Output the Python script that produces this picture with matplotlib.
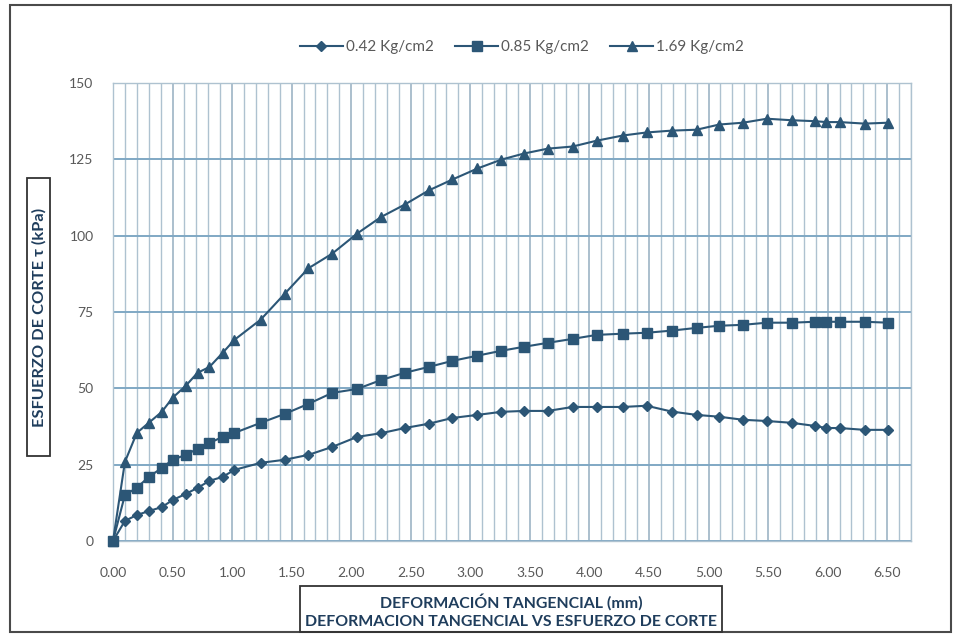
import matplotlib
matplotlib.use("Agg")
import matplotlib.pyplot as plt
from matplotlib.patches import Rectangle
from matplotlib.ticker import MultipleLocator, FormatStrFormatter

plt.rcParams['font.family'] = ['Lato', 'DejaVu Sans']

# Horizontal displacement (mm), shared by the three normal-stress tests
deformacion = [0.00, 0.10, 0.20, 0.30, 0.41, 0.50, 0.61, 0.71, 0.81, 0.92,
               1.02, 1.24, 1.44, 1.64, 1.84, 2.05, 2.25, 2.45, 2.65, 2.85,
               3.06, 3.26, 3.45, 3.65, 3.86, 4.06, 4.28, 4.48, 4.69, 4.90,
               5.09, 5.29, 5.49, 5.70, 5.89, 5.99, 6.10, 6.31, 6.51]

# Shear stress (kPa) for each normal load
tau_042 = [0.0, 6.6, 8.5, 9.8, 11.1, 13.4, 15.4, 17.4, 19.7, 21.0,
           23.3, 25.6, 26.6, 28.2, 30.8, 34.1, 35.3, 37.0, 38.4, 40.3,
           41.3, 42.3, 42.6, 42.6, 43.9, 43.9, 43.9, 44.3, 42.4, 41.3,
           40.7, 39.7, 39.3, 38.7, 37.7, 37.0, 37.0, 36.4, 36.4]
tau_085 = [0.0, 15.1, 17.4, 21.0, 23.9, 26.6, 28.2, 30.2, 32.1, 34.1,
           35.4, 38.7, 41.6, 44.9, 48.5, 49.8, 52.7, 55.1, 57.0, 59.0,
           60.7, 62.3, 63.6, 64.9, 66.2, 67.5, 67.9, 68.2, 68.9, 69.8,
           70.5, 70.8, 71.5, 71.5, 71.8, 71.8, 71.8, 71.8, 71.5]
tau_169 = [0.0, 25.9, 35.4, 38.7, 42.3, 46.9, 50.8, 55.1, 57.0, 61.6,
           65.9, 72.5, 80.9, 89.3, 94.1, 100.7, 106.1, 110.2, 114.8, 118.4,
           122.0, 124.9, 126.9, 128.5, 129.2, 131.1, 132.8, 133.8, 134.4, 134.7,
           136.4, 137.0, 138.3, 137.8, 137.5, 137.2, 137.2, 136.7, 137.0]

series_labels = ['0.42 Kg/cm2', '0.85 Kg/cm2', '1.69 Kg/cm2']
y_ticks = [0, 25, 50, 75, 100, 125, 150]

W, H = 959, 637
fig = plt.figure(figsize=(W / 100, H / 100), dpi=100)
fig.patch.set_facecolor('white')

ax = fig.add_axes([113 / W, 1 - 541 / H, (911 - 113) / W, (541 - 83) / H])
ax.set_xlim(0, 6.7)
ax.set_ylim(0, 150)

line_color = '#2c5676'
text_color = '#595959'
title_color = '#1f3d5c'

# grid: fine vertical lines every 0.1 mm, horizontal every 25 kPa
ax.xaxis.set_major_locator(MultipleLocator(0.5))
ax.xaxis.set_minor_locator(MultipleLocator(0.1))
ax.xaxis.set_major_formatter(FormatStrFormatter('%.2f'))
ax.set_yticks(y_ticks)
ax.grid(which='minor', axis='x', color='#aec2d0', linewidth=1.0)
ax.grid(which='major', axis='x', color='#94adc0', linewidth=1.1)
ax.grid(which='major', axis='y', color='#80a8c4', linewidth=1.4)
ax.set_axisbelow(True)
for s in ax.spines.values():
    s.set_color('#aec2d0')
    s.set_linewidth(1.0)

ax.tick_params(axis='both', which='both', length=0, colors=text_color, labelsize=10)
ax.tick_params(axis='x', pad=19)
ax.tick_params(axis='y', pad=14)

kw = dict(color=line_color, linewidth=1.5, markerfacecolor=line_color,
          markeredgecolor=line_color, clip_on=False, zorder=3)
ax.plot(deformacion, tau_042, marker='D', markersize=5.5, label=series_labels[0], **kw)
ax.plot(deformacion, tau_085, marker='s', markersize=7, label=series_labels[1], **kw)
ax.plot(deformacion, tau_169, marker='^', markersize=7.5, label=series_labels[2], **kw)

leg = fig.legend(loc='center', bbox_to_anchor=(522 / W, 1 - 47 / H), ncol=3,
                 frameon=False, fontsize=11, handlelength=2.8, handletextpad=0.2,
                 columnspacing=1.4)
for t in leg.get_texts():
    t.set_color(text_color)

# outer chart frame
fig.add_artist(Rectangle((10 / W, 1 - 632 / H), (951 - 10) / W, (632 - 5) / H,
                         transform=fig.transFigure, fill=False,
                         edgecolor='#4a4a4a', linewidth=1.5))

# y-axis title box
fig.add_artist(Rectangle((27 / W, 1 - 456 / H), (50 - 27) / W, (456 - 178) / H,
                         transform=fig.transFigure, fill=False,
                         edgecolor='#333333', linewidth=1.3))
fig.text(39 / W, 1 - 317 / H, 'ESFUERZO DE CORTE τ (kPa)', rotation=90,
         ha='center', va='center', fontsize=11.8, fontweight='bold', color=title_color)

# x-axis title box
fig.add_artist(Rectangle((300 / W, 1 - 632 / H), (722 - 300) / W, (632 - 586) / H,
                         transform=fig.transFigure, fill=False,
                         edgecolor='#333333', linewidth=1.3))
fig.text(511 / W, 1 - 602 / H, 'DEFORMACIÓN TANGENCIAL (mm)', ha='center', va='center',
         fontsize=11.4, fontweight='bold', color=title_color)
fig.text(511 / W, 1 - 622 / H, 'DEFORMACION TANGENCIAL VS ESFUERZO DE CORTE',
         ha='center', va='center', fontsize=11.4, fontweight='bold', color=title_color)

fig.savefig('out.png', dpi=100, facecolor='white')
